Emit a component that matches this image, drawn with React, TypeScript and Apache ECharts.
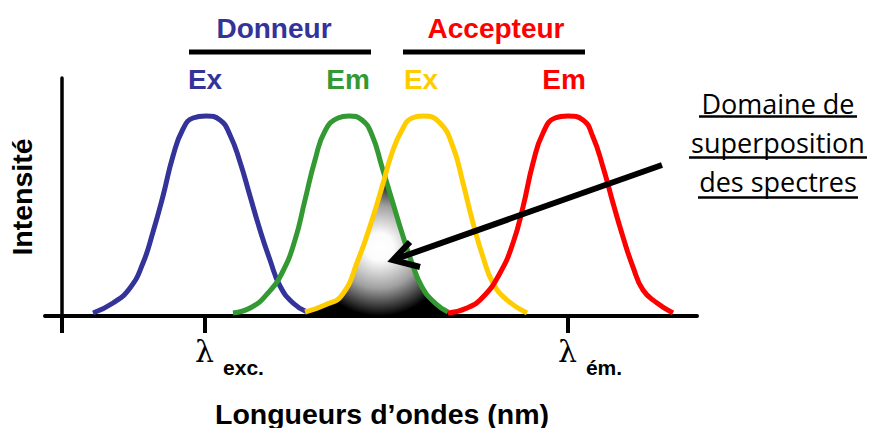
import React, { useEffect, useRef } from "react";
import * as echarts from "echarts";

// x in arbitrary wavelength units (0 = intensity axis), y = relative intensity
const blueEx: number[][] = [
  [31, 0.015], [51, 0.065], [68, 0.14], [81, 0.265], [91, 0.42], [101, 0.6],
  [111, 0.8], [121, 0.935], [131, 0.99], [144, 1.0], [158, 0.98], [168, 0.905],
  [178, 0.77], [188, 0.6], [198, 0.43], [208, 0.28], [218, 0.15], [231, 0.065], [245, 0.02],
];
const greenEm: number[][] = [
  [171, 0.015], [190, 0.045], [206, 0.115], [220, 0.215], [233, 0.38], [243, 0.58],
  [253, 0.78], [263, 0.925], [276, 0.99], [287, 1.0], [300, 0.98], [310, 0.905],
  [320, 0.745], [330, 0.58], [340, 0.415], [350, 0.265], [360, 0.145], [373, 0.065], [386, 0.02],
];
const yellowEx: number[][] = [
  [243, 0.02], [263, 0.055], [280, 0.105], [296, 0.28], [310, 0.48], [320, 0.645],
  [330, 0.815], [340, 0.93], [350, 0.99], [361, 1.0], [378, 0.965], [391, 0.845],
  [401, 0.665], [411, 0.465], [421, 0.295], [431, 0.165], [445, 0.08], [465, 0.015],
];
const redEm: number[][] = [
  [386, 0.015], [405, 0.04], [421, 0.095], [438, 0.215], [451, 0.365], [461, 0.545],
  [471, 0.765], [481, 0.915], [493, 0.99], [506, 1.0], [521, 0.98], [531, 0.895],
  [541, 0.745], [551, 0.565], [561, 0.395], [571, 0.245], [581, 0.13], [595, 0.065], [611, 0.015],
];
const crossing: number[] = [323, 0.69];

const tickValues = [0, 143, 506];
const labelValues = [143, 506];
const labelSubs = ["exc.", "ém."];

const curveNames = ["Donneur Ex", "Donneur Em", "Accepteur Ex", "Accepteur Em"];
const curveColors = ["#333399", "#339933", "#FFCC00", "#FF0000"];
const topLabels = ["Ex", "Em", "Ex", "Em"];
const groupNames = ["Donneur", "Accepteur"];
const calloutLines = ["Domaine de", "superposition", "des spectres"];

const BOLD = '"Liberation Sans", Arial, sans-serif';

export default function App() {
  const ref = useRef<HTMLDivElement>(null);
  useEffect(() => {
    if (!ref.current) return;
    const chart = echarts.init(ref.current, undefined, { renderer: "svg" });

    const overlap = [
      ...yellowEx.filter((p) => p[0] < crossing[0]),
      crossing,
      ...greenEm.filter((p) => p[0] > crossing[0]),
    ];
    const curves = [blueEx, greenEm, yellowEx, redEm];

    const peakX = [205, 348, 421, 564];
    const graphic: any[] = [];
    topLabels.forEach((t, i) => {
      graphic.push({
        type: "text",
        style: { text: t, x: peakX[i], y: 79, align: "center", verticalAlign: "middle", font: `bold 28px ${BOLD}`, fill: curveColors[i] },
      });
    });
    const groupX = [274, 496];
    const groupColors = ["#333399", "#FF0000"];
    groupNames.forEach((t, i) => {
      graphic.push({
        type: "text",
        style: { text: t, x: groupX[i], y: 28, align: "center", verticalAlign: "middle", font: `bold 28px ${BOLD}`, fill: groupColors[i] },
      });
    });
    const bars = [[189, 371], [403, 585]];
    bars.forEach((b) => {
      graphic.push({ type: "line", shape: { x1: b[0], y1: 52, x2: b[1], y2: 52 }, style: { stroke: "#000", lineWidth: 5 } });
    });
    const calloutY = [103, 142, 181];
    const underline = [[699, 857, 116.5], [689, 867, 157.5], [698, 858, 197.5]];
    calloutLines.forEach((t, i) => {
      graphic.push({
        type: "text",
        style: { text: t, x: 778, y: calloutY[i], align: "center", verticalAlign: "middle", font: '27px "Open Sans", sans-serif', fill: "#000" },
      });
      const u = underline[i];
      graphic.push({ type: "line", shape: { x1: u[0], y1: u[2], x2: u[1], y2: u[2] }, style: { stroke: "#000", lineWidth: 2.5 } });
    });
    // arrow
    graphic.push({ type: "line", shape: { x1: 662, y1: 165, x2: 396, y2: 259 }, style: { stroke: "#000", lineWidth: 6 }, z: 100 });
    graphic.push({
      type: "polyline",
      shape: { points: [[410, 242], [393, 260], [420, 267]] },
      style: { stroke: "#000", lineWidth: 6, fill: null, lineJoin: "miter" },
      z: 100,
    });

    chart.setOption({
      animation: false,
      grid: { left: 45, right: 173, top: 78, bottom: 112, containLabel: false, outerBoundsMode: "none" },
      xAxis: {
        type: "value",
        min: -17,
        max: 635,
        name: "Longueurs d’ondes (nm)",
        nameLocation: "middle",
        nameGap: 83,
        nameTextStyle: { fontFamily: BOLD, fontWeight: "bold", fontSize: 28.5, color: "#000", padding: [0, 0, 0, 22] },
        axisLine: { show: true, onZero: true, lineStyle: { color: "#000", width: 4 } },
        axisTick: { show: true, customValues: tickValues, length: 17, lineStyle: { color: "#000", width: 4 } },
        axisLabel: {
          show: true,
          customValues: labelValues,
          margin: 20,
          formatter: (v: number) => {
            const i = labelValues.indexOf(v);
            return `{sp${i}| }{l|λ}{s|${labelSubs[i]}}`;
          },
          rich: {
            sp0: { width: 49 },
            sp1: { width: 44 },
            l: { fontFamily: '"DejaVu Serif", serif', fontSize: 30, lineHeight: 34, color: "#000", verticalAlign: "top" },
            s: { fontFamily: BOLD, fontWeight: "bold", fontSize: 21, lineHeight: 21, color: "#000", padding: [21, 0, 0, 9], verticalAlign: "top" },
          },
        },
        splitLine: { show: false },
      },
      yAxis: {
        type: "value",
        min: 0,
        max: 1.19,
        name: "Intensité",
        nameLocation: "middle",
        nameRotate: 90,
        nameGap: 9,
        nameTextStyle: { fontFamily: BOLD, fontWeight: "bold", fontSize: 28.5, color: "#000" },
        axisLine: { show: true, onZero: true, lineStyle: { color: "#000", width: 3.5 } },
        axisTick: { show: false },
        axisLabel: { show: false },
        splitLine: { show: false },
      },
      series: [
        {
          type: "line",
          name: "Domaine de superposition",
          data: overlap,
          smooth: 0.4,
          showSymbol: false,
          lineStyle: { width: 0, opacity: 0 },
          areaStyle: {
            opacity: 1,
            color: {
              type: "radial",
              x: 0.52,
              y: 0.5,
              r: 0.5,
              colorStops: [
                { offset: 0, color: "#ffffff" },
                { offset: 0.2, color: "#fbfbfb" },
                { offset: 0.6, color: "#a0a0a0" },
                { offset: 1, color: "#000000" },
              ],
            },
          },
          z: 1,
        },
        ...curves.map((d, i) => ({
          type: "line",
          name: curveNames[i],
          data: d,
          smooth: 0.5,
          showSymbol: false,
          lineStyle: { width: 5, color: curveColors[i] },
          itemStyle: { color: curveColors[i] },
          z: 2 + i,
        })),
      ],
      graphic,
    });
    return () => chart.dispose();
  }, []);
  return <div ref={ref} style={{ position: "absolute", left: 0, top: 0, width: 870, height: 428 }} />;
}
